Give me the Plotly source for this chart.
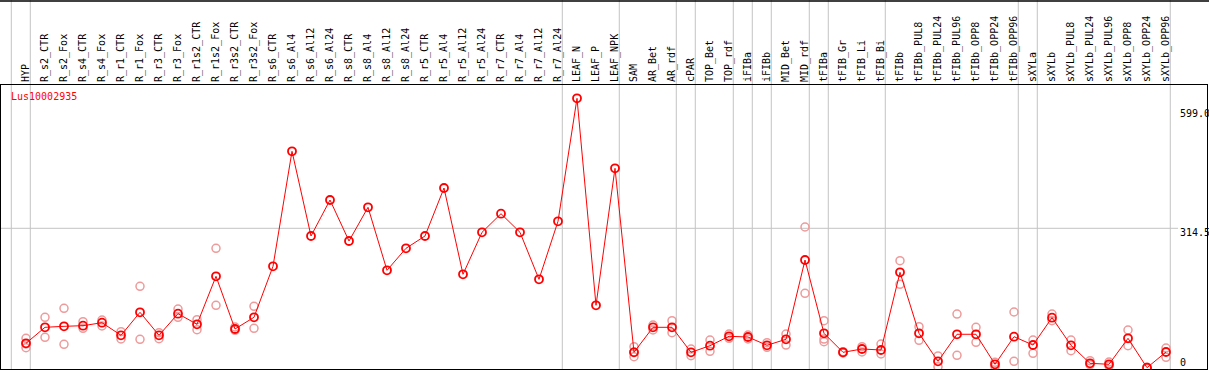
import plotly.graph_objects as go

title = "Lus10002935"

categories = [
    "HYP", "R_s2_CTR", "R_s2_Fox", "R_s4_CTR", "R_s4_Fox", "R_r1_CTR", "R_r1_Fox",
    "R_r3_CTR", "R_r3_Fox", "R_r1s2_CTR", "R_r1s2_Fox", "R_r3s2_CTR", "R_r3s2_Fox",
    "R_s6_CTR", "R_s6_Al4", "R_s6_Al12", "R_s6_Al24", "R_s8_CTR", "R_s8_Al4",
    "R_s8_Al12", "R_s8_Al24", "R_r5_CTR", "R_r5_Al4", "R_r5_Al12", "R_r5_Al24",
    "R_r7_CTR", "R_r7_Al4", "R_r7_Al12", "R_r7_Al24", "LEAF_N", "LEAF_P", "LEAF_NPK",
    "SAM", "AR_Bet", "AR_rdf", "cPAR", "TOP_Bet", "TOP_rdf", "iFIBa", "iFIBb",
    "MID_Bet", "MID_rdf", "tFIBa", "tFIB_Gr", "tFIB_Li", "tFIB_Bi", "tFIBb",
    "tFIBb_PUL8", "tFIBb_PUL24", "tFIBb_PUL96", "tFIBb_OPP8", "tFIBb_OPP24",
    "tFIBb_OPP96", "sXYLa", "sXYLb", "sXYLb_PUL8", "sXYLb_PUL24", "sXYLb_PUL96",
    "sXYLb_OPP8", "sXYLb_OPP24", "sXYLb_OPP96",
]

mean_values = [
    57.4, 93.2, 95.4, 96.8, 103.5, 75.3, 126.7, 75.3, 123.6, 99.9, 207.2, 89.4, 115.6,
    229.5, 486.6, 297.3, 377.7, 286.1, 361.4, 220.6, 269.8, 297.3, 404.6, 211.7, 305.5,
    347.1, 305.5, 200.5, 330.1, 605.0, 142.4, 448.6,
    37.3, 93.2, 93.2, 37.3, 52.1, 73.1, 71.5, 53.0, 66.4, 243.6, 79.8, 37.3, 44.7, 42.5,
    216.1, 79.8, 17.2, 77.6, 77.6, 10.5, 72.2, 53.6, 114.7, 53.0, 12.7, 10.5, 68.6, 2.9, 38.0,
]

replicate_values = [
    [68.6, 47.6, 56.0], [115.6, 70.9], [135.7, 55.2], [105.7, 91.0], [109.5, 96.1],
    [83.4, 67.1], [184.8, 66.4], [81.1, 67.7], [134.1, 115.6], [110.2, 87.8],
    [269.8, 142.4], [93.9, 86.5], [140.1, 91.0],
    [], [], [], [], [], [], [], [], [], [], [], [], [], [], [], [], [], [], [],
    [49.8, 27.5, 38.0], [98.3, 87.2], [108.0, 81.1], [44.7, 29.7], [64.8, 39.6],
    [78.2, 68.6], [76.0, 67.1], [58.8, 48.5], [78.2, 53.6], [317.4, 169.2],
    [108.0, 61.0, 67.0], [38.7, 35.8], [49.8, 38.0], [55.9, 33.5], [242.1, 189.3],
    [94.5, 64.1], [29.1, 5.1], [122.9, 30.6], [93.2, 59.7], [15.0, 5.1], [127.4, 17.2],
    [64.8, 35.1], [122.9, 108.0], [64.8, 40.9], [18.6, 9.6], [15.6, 6.7], [87.2, 52.1],
    [4.0, 1.0], [46.9, 26.2],
]

# indices of the last category in each group (separator drawn after it)
group_ends = [-1, 0, 28, 31, 34, 35, 37, 38, 39, 41, 42, 45, 52, 53, 60]

y_ticks = [0, 314.5, 599.0]
y_tick_text = ["0", "314.5", "599.0"]

RED = "#ff0000"
PINK = "#ee9a9a"
GREY = "#c3c3c3"
FONT = "DejaVu Sans Mono"

rep_x, rep_y = [], []
for cat, reps in zip(categories, replicate_values):
    for v in reps:
        rep_x.append(cat)
        rep_y.append(v)

fig = go.Figure()
fig.add_trace(go.Scatter(
    x=rep_x, y=rep_y, mode="markers",
    marker=dict(symbol="circle-open", size=8, color=PINK, line=dict(width=1.5, color=PINK)),
    hoverinfo="skip", showlegend=False, cliponaxis=True,
))
fig.add_trace(go.Scatter(
    x=categories, y=mean_values, mode="lines+markers",
    line=dict(color=RED, width=1),
    marker=dict(symbol="circle-open", size=8, color=RED, line=dict(width=1.8, color=RED)),
    showlegend=False, cliponaxis=True,
))

shapes = []
for g in group_ends:
    shapes.append(dict(type="line", xref="x", yref="paper", x0=g + 0.226, x1=g + 0.226,
                       y0=0, y1=1.31, line=dict(color=GREY, width=1), layer="below"))
# horizontal grid line at middle tick
shapes.append(dict(type="line", xref="paper", yref="y", x0=0, x1=0.976,
                   y0=y_ticks[1], y1=y_ticks[1], line=dict(color=GREY, width=1), layer="below"))
# top frame line
shapes.append(dict(type="line", xref="paper", yref="paper", x0=-0.01, x1=1.01,
                   y0=1.296, y1=1.296, line=dict(color="black", width=1.5)))

annotations = [dict(text=title, xref="paper", yref="paper", x=0.0069, y=0.958,
                    xanchor="left", yanchor="middle", showarrow=False,
                    font=dict(family=FONT, size=10, color=RED))]
label_y = [0.0246, 0.482, 0.901]
for t, py in zip(y_tick_text, label_y):
    annotations.append(dict(text=t, xref="paper", yref="paper", x=0.976, y=py,
                            xanchor="left", yanchor="middle", showarrow=False,
                            font=dict(family=FONT, size=10, color="black")))

fig.update_layout(
    width=1209, height=370,
    margin=dict(l=1, r=2, t=85, b=1, pad=0),
    paper_bgcolor="white", plot_bgcolor="white",
    shapes=shapes, annotations=annotations,
    xaxis=dict(
        type="category", categoryorder="array", categoryarray=categories,
        range=[-1.316, 62.158], side="top", tickangle=-90,
        tickfont=dict(family=FONT, size=10, color="black"),
        ticks="", showgrid=False, zeroline=False,
        showline=True, mirror=True, linecolor="black", linewidth=1,
    ),
    yaxis=dict(
        range=[0, 634.8], showticklabels=False, ticks="", showgrid=False, zeroline=False,
        showline=True, mirror=True, linecolor="black", linewidth=1,
    ),
)

fig.write_html(
    "out.html",
    config={"displayModeBar": False},
    post_script="document.body.style.margin='0';document.body.style.overflow='hidden';",
)
